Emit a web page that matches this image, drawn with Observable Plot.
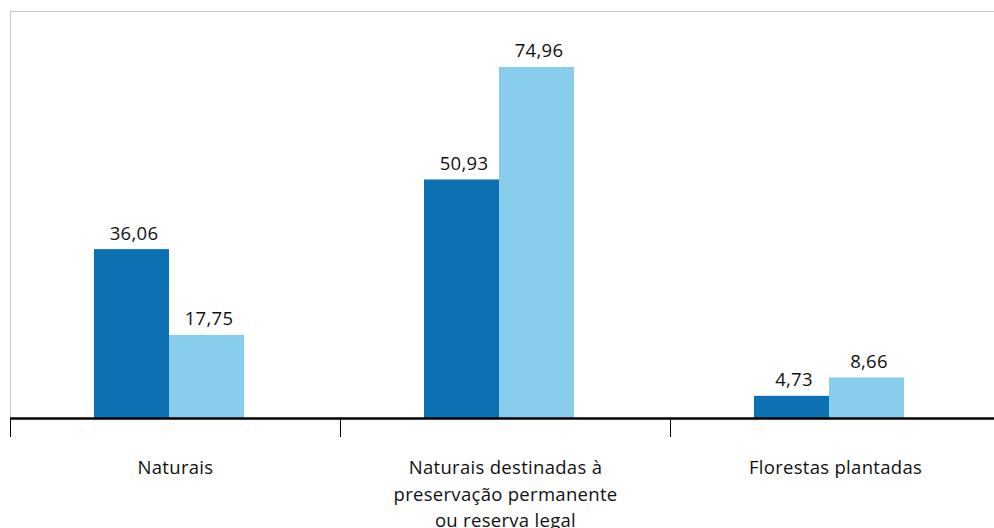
<!DOCTYPE html>
<html>
<head>
<meta charset="utf-8">
<script src="https://cdn.jsdelivr.net/npm/d3@7"></script>
<script src="https://cdn.jsdelivr.net/npm/@observablehq/plot@0.6"></script>
<style>
  html, body { margin: 0; padding: 0; background: #fff; }
  #chart svg { display: block; }
</style>
</head>
<body>
<div id="chart"></div>
<script>
const categories = [
  "Naturais",
  "Naturais destinadas à\npreservação permanente\nou reserva legal",
  "Florestas plantadas"
];
const series = ["Série 1", "Série 2"];
const valuesSeries1 = [36.06, 50.93, 4.73];
const valuesSeries2 = [17.75, 74.96, 8.66];
const colors = ["#0b71b3", "#88cdeb"];
const yMax = 86.9;

const data = [];
categories.forEach((c, i) => {
  data.push({category: c, series: series[0], value: valuesSeries1[i]});
  data.push({category: c, series: series[1], value: valuesSeries2[i]});
});

const fmt = v => v.toLocaleString("pt-BR", {minimumFractionDigits: 2, maximumFractionDigits: 2});

const width = 994, height = 528;
const marginLeft = 10, marginRight = -6;
const bandHalf = (width - marginLeft - marginRight) / categories.length / 2;
const font = "'Open Sans', 'Noto Sans', sans-serif";

const chart = Plot.plot({
  width, height,
  marginLeft, marginRight,
  marginTop: 11,
  marginBottom: 110,
  style: {fontFamily: font, background: "#fff", letterSpacing: "0.3px"},
  fx: {domain: categories, padding: 0},
  x: {domain: series, paddingInner: 0, paddingOuter: 1.2, axis: null},
  y: {domain: [0, yMax], axis: null},
  color: {domain: series, range: colors},
  marks: [
    Plot.frame({anchor: "left", facet: "super", stroke: "#c8c8c8"}),
    Plot.frame({anchor: "top", facet: "super", stroke: "#c8c8c8"}),
    Plot.barY(data, {fx: "category", x: "series", y: "value", fill: "series", dx: -6}),
    Plot.text(data, {
      fx: "category", x: "series", y: "value", text: d => fmt(d.value),
      dx: -4, dy: -10, lineAnchor: "bottom", fontSize: 18.5, fill: "#111"
    }),
    Plot.ruleY([0], {stroke: "#000", strokeWidth: 2.5}),
    Plot.axisFx({
      anchor: "bottom", tickSize: 19, tickFormat: () => "", dx: -bandHalf,
      stroke: "#000", label: null
    }),
    Plot.axisFx({
      anchor: "bottom", tickSize: 0, tickPadding: 37, fontSize: 18.5,
      lineHeight: 1.43, fill: "#111", label: null
    })
  ]
});

document.getElementById("chart").append(chart);
</script>
</body>
</html>
